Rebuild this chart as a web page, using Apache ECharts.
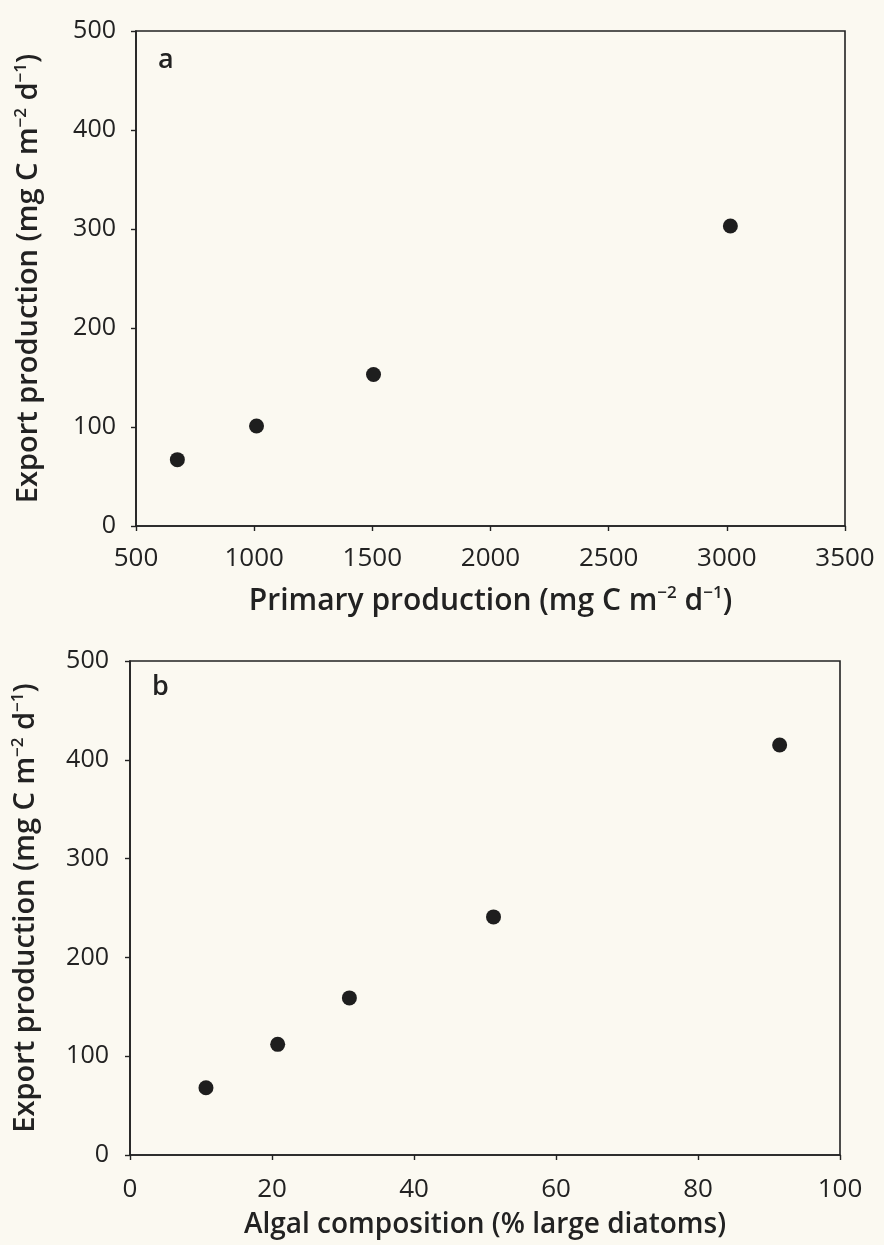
<!DOCTYPE html>
<html>
<head>
<meta charset="utf-8">
<script src="https://cdn.jsdelivr.net/npm/echarts@6/dist/echarts.min.js"></script>
<style>
html,body{margin:0;padding:0;background:#fbf9f1;}
#chart{width:884px;height:1245px;}
</style>
</head>
<body>
<div id="chart"></div>
<script>
// Panel a data
const primaryProduction = [675, 1010, 1505, 3015];
const exportA = [67, 101, 153, 303];
// Panel b data
const largeDiatoms = [10.7, 20.8, 30.9, 51.2, 91.5];
const exportB = [68, 112, 159, 241, 415];
// Axis ticks
const xTicksA = [500, 1000, 1500, 2000, 2500, 3000, 3500];
const xTicksB = [0, 20, 40, 60, 80, 100];
const yTicks = [0, 100, 200, 300, 400, 500];

const FONT = '"Open Sans", "DejaVu Sans", sans-serif';
const ink = '#222222';
function richOf(size) {
  return {
    n: {fontFamily: FONT, fontSize: size, fontWeight: 600, color: ink},
    s: {fontFamily: FONT, fontSize: Math.round(size * 0.58), fontWeight: 600, color: ink, padding: [0, 0, Math.round(size * 0.5), 0]}
  };
}
const unitName = '{n|(mg C m}{s|−2}{n| d}{s|−1}{n|)}';

function axisCommon(labelSize, margin) {
  return {
    axisLine: {show: true, lineStyle: {color: ink, width: 1.6}},
    axisTick: {show: true, length: 5, lineStyle: {color: ink, width: 1.4}},
    axisLabel: {fontFamily: FONT, fontSize: labelSize, color: ink, margin: margin, formatter: v => String(v)},
    splitLine: {show: false}
  };
}

const chart = echarts.init(document.getElementById('chart'));
chart.setOption({
  backgroundColor: '#fbf9f1',
  animation: false,
  title: [
    {text: 'a', left: 153, top: 42, textStyle: {fontFamily: FONT, fontSize: 27, fontWeight: 600, color: ink}},
    {text: 'b', left: 147, top: 669, textStyle: {fontFamily: FONT, fontSize: 27, fontWeight: 600, color: ink}}
  ],
  grid: [
    {left: 136, right: 39, top: 31, height: 495, show: true, borderColor: ink, borderWidth: 1.6, backgroundColor: 'transparent'},
    {left: 130, right: 44, top: 661, height: 494, show: true, borderColor: ink, borderWidth: 1.6, backgroundColor: 'transparent'}
  ],
  xAxis: [
    Object.assign(axisCommon(26, 20), {
      gridIndex: 0, type: 'value', min: xTicksA[0], max: xTicksA[xTicksA.length - 1], interval: 500,
      name: '{n|Primary production }' + unitName, nameLocation: 'middle', nameGap: 59,
      nameTextStyle: {rich: richOf(30)}
    }),
    Object.assign(axisCommon(26, 22), {
      gridIndex: 1, type: 'value', min: xTicksB[0], max: xTicksB[xTicksB.length - 1], interval: 20,
      name: '{n|Algal composition (% large diatoms)}', nameLocation: 'middle', nameGap: 56,
      nameTextStyle: {rich: richOf(28)}
    })
  ],
  yAxis: [
    Object.assign(axisCommon(25, 20), {
      gridIndex: 0, type: 'value', min: yTicks[0], max: yTicks[yTicks.length - 1], interval: 100,
      name: '{n|Export production }' + unitName, nameLocation: 'middle', nameGap: 91, nameRotate: 90,
      nameTextStyle: {rich: richOf(29)}
    }),
    Object.assign(axisCommon(25, 21), {
      gridIndex: 1, type: 'value', min: yTicks[0], max: yTicks[yTicks.length - 1], interval: 100,
      name: '{n|Export production }' + unitName, nameLocation: 'middle', nameGap: 88, nameRotate: 90,
      nameTextStyle: {rich: richOf(29)}
    })
  ],
  series: [
    {
      type: 'scatter', xAxisIndex: 0, yAxisIndex: 0, symbol: 'circle', symbolSize: 15,
      itemStyle: {color: '#1e1e1e', opacity: 1},
      data: primaryProduction.map((x, i) => [x, exportA[i]])
    },
    {
      type: 'scatter', xAxisIndex: 1, yAxisIndex: 1, symbol: 'circle', symbolSize: 15,
      itemStyle: {color: '#1e1e1e', opacity: 1},
      data: largeDiatoms.map((x, i) => [x, exportB[i]])
    }
  ]
});
</script>
</body>
</html>
